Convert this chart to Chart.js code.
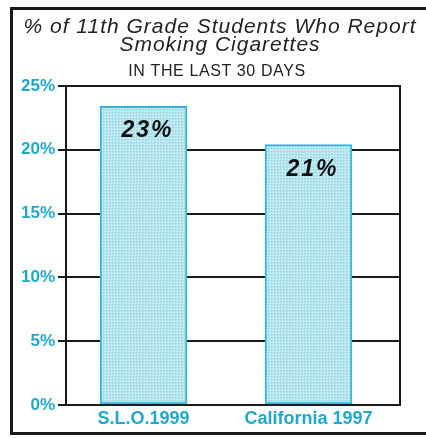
<!DOCTYPE html>
<html>
<head>
<meta charset="utf-8">
<script src="https://cdn.jsdelivr.net/npm/chart.js@4"></script>
<style>
  html, body { margin: 0; padding: 0; background: #fff; }
  #cntr { width: 426px; height: 438px; }
</style>
</head>
<body>
<div id="cntr">
  <canvas id="myChart" width="426" height="438"></canvas>
</div>
<script>
// Datos
const categorias = ['S.L.O.1999', 'California 1997'];
const posiciones = [1, 2];
const valores = [23.4, 20.4];
const etiquetas = ['23%', '21%'];
const ticksY = [0, 5, 10, 15, 20, 25];
const titulo = ['% of 11th Grade Students Who Report', 'Smoking Cigarettes'];
const subtitulo = 'IN THE LAST 30 DAYS';

const azul = '#1ea8cb';
const negro = '#1a1a1a';

// Relleno punteado de las barras
function patron() {
  const c = document.createElement('canvas');
  c.width = 3;
  c.height = 3;
  const g = c.getContext('2d');
  g.fillStyle = '#b4e5ef';
  g.fillRect(0, 0, 3, 3);
  g.fillStyle = '#e2f6fa';
  g.fillRect(0, 0, 1, 1);
  g.fillStyle = '#8dd3e3';
  g.fillRect(1, 1, 1, 1);
  return g.createPattern(c, 'repeat');
}

// Marco, titulos, borde derecho y etiquetas de valor
const decoracion = {
  id: 'decoracion',
  afterDraw(chart) {
    const ctx = chart.ctx;
    const area = chart.chartArea;
    ctx.save();

    // marco exterior
    ctx.strokeStyle = negro;
    ctx.lineWidth = 3;
    ctx.beginPath();
    ctx.moveTo(426, 8.5);
    ctx.lineTo(11.5, 8.5);
    ctx.lineTo(11.5, 433.5);
    ctx.lineTo(426, 433.5);
    ctx.stroke();

    // borde derecho del grafico
    ctx.lineWidth = 2;
    ctx.beginPath();
    ctx.moveTo(area.right, area.top - 1);
    ctx.lineTo(area.right, area.bottom + 1);
    ctx.stroke();

    // titulos
    ctx.fillStyle = '#222';
    ctx.textAlign = 'center';
    ctx.textBaseline = 'alphabetic';
    ctx.letterSpacing = '1px';
    ctx.font = 'italic 21px "Liberation Sans", Arial, sans-serif';
    ctx.fillText(titulo[0], 220, 33);
    ctx.fillText(titulo[1], 220, 51);
    ctx.letterSpacing = '0.6px';
    ctx.font = '16px "Liberation Sans", Arial, sans-serif';
    ctx.fillText(subtitulo, 217, 76);

    // etiquetas de valor
    const meta = chart.getDatasetMeta(0);
    ctx.fillStyle = '#111';
    ctx.letterSpacing = '2px';
    ctx.font = 'italic bold 23px "Liberation Sans", Arial, sans-serif';
    meta.data.forEach((bar, i) => {
      ctx.fillText(etiquetas[i], bar.x + 4, bar.y + 31);
    });
    ctx.restore();
  }
};

const ctx = document.getElementById('myChart');
new Chart(ctx, {
  type: 'bar',
  data: {
    datasets: [{
      data: posiciones.map((p, i) => ({ x: p, y: valores[i] })),
      backgroundColor: patron(),
      borderColor: '#38b4d4',
      borderWidth: 2,
      borderSkipped: false,
      barThickness: 87
    }]
  },
  options: {
    responsive: false,
    animation: false,
    layout: {
      padding: { top: 86, right: 26, left: 0, bottom: 0 }
    },
    plugins: {
      legend: { display: false },
      title: { display: false },
      tooltip: { enabled: false }
    },
    scales: {
      x: {
        type: 'linear',
        offset: false,
        min: 0.53,
        max: 2.5545,
        afterBuildTicks: (s) => { s.ticks = posiciones.map(v => ({ value: v })); },
        afterFit: (s) => { s.height = 33; },
        grid: { display: false, drawTicks: false },
        border: { display: true, color: negro, width: 2 },
        ticks: {
          color: azul,
          padding: 3,
          font: { family: '"Liberation Sans", Arial, sans-serif', size: 18, weight: 'bold' },
          callback: (v) => categorias[posiciones.indexOf(v)]
        }
      },
      y: {
        min: 0,
        max: 25,
        afterBuildTicks: (s) => { s.ticks = ticksY.map(v => ({ value: v })); },
        afterFit: (s) => { s.width = 66; },
        grid: { color: negro, lineWidth: 2, tickLength: 8, tickColor: negro },
        border: { display: true, color: negro, width: 2 },
        ticks: {
          color: azul,
          padding: 3,
          font: { family: '"Liberation Sans", Arial, sans-serif', size: 17, weight: 'bold' },
          callback: (v) => v + '%'
        }
      }
    }
  },
  plugins: [decoracion]
});
</script>
</body>
</html>
